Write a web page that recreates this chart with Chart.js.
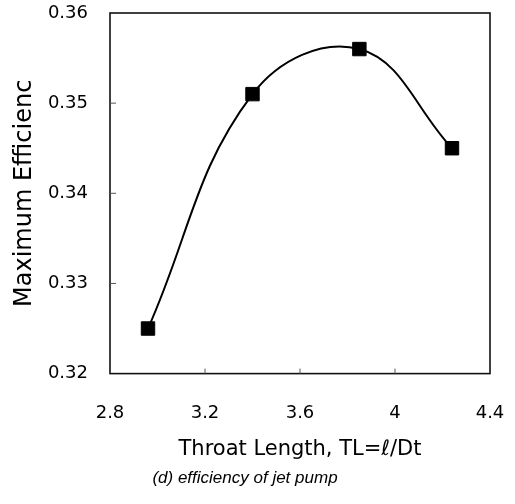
<!DOCTYPE html>
<html lang="en">
<head>
	<meta charset="UTF-8">
	<title>Maximum Efficiency vs Throat Length</title>
	<script src="https://cdn.jsdelivr.net/npm/chart.js"></script>
	<style>
		html, body { margin: 0; padding: 0; background: #fff; }
		#wrap { width: 515px; height: 504px; }
	</style>
</head>
<body>

<div id="wrap"><canvas id="effChart"></canvas></div>

<script>
// values
const throatLength = [2.96, 3.40, 3.85, 4.24];
const maxEfficiency = [0.325, 0.351, 0.356, 0.345];
const xTicks = [2.8, 3.2, 3.6, 4.0, 4.4];
const xTickLabels = ['2.8', '3.2', '3.6', '4', '4.4'];
const yTicks = [0.32, 0.33, 0.34, 0.35, 0.36];
const yTickLabels = ['0.32', '0.33', '0.34', '0.35', '0.36'];

// box around the plot + small inward tick marks
const frame = {
    id: 'frame',
    afterDraw(chart) {
        const {ctx, chartArea: a, scales} = chart;
        ctx.save();
        ctx.strokeStyle = '#111';
        ctx.lineWidth = 1.6;
        ctx.strokeRect(a.left, a.top, a.right - a.left, a.bottom - a.top);
        ctx.lineWidth = 1;
        ctx.strokeStyle = '#555';
        ctx.beginPath();
        xTicks.slice(1, -1).forEach(v => {
            const px = scales.x.getPixelForValue(v);
            ctx.moveTo(px, a.bottom);
            ctx.lineTo(px, a.bottom - 5);
        });
        yTicks.slice(1, -1).forEach(v => {
            const py = scales.y.getPixelForValue(v);
            ctx.moveTo(a.left, py);
            ctx.lineTo(a.left + 6, py);
        });
        ctx.stroke();
        ctx.restore();
    }
};

const ctx = document.getElementById('effChart').getContext('2d');
new Chart(ctx, {
    type: 'line',
    data: {
        datasets: [{
            data: throatLength.map((x, i) => ({x: x, y: maxEfficiency[i]})),
            borderColor: '#000',
            borderWidth: 2,
            tension: 0.4,
            fill: false,
            pointStyle: 'rect',
            pointRadius: 9.5,
            pointBackgroundColor: '#000',
            pointBorderColor: '#000',
            pointBorderWidth: 1
        }]
    },
    options: {
        responsive: true,
        maintainAspectRatio: false,
        animation: false,
        layout: { autoPadding: false, padding: { top: 13, right: 25, left: 0, bottom: 0 } },
        plugins: {
            legend: { display: false },
            tooltip: { enabled: false },
            title: {
                display: true,
                position: 'bottom',
                text: '(d) efficiency of jet pump',
                color: '#000',
                font: { family: 'Liberation Sans', size: 17, style: 'italic', weight: 'normal' },
                padding: { top: 0, bottom: 16 }
            }
        },
        scales: {
            x: {
                type: 'linear',
                min: 2.8,
                max: 4.4,
                afterBuildTicks: s => { s.ticks = xTicks.map(v => ({value: v})); },
                // fixed band under the plot, no extra side padding
                afterFit: s => { s.height = 94; s.paddingLeft = 0; s.paddingRight = 0; },
                grid: { display: false, drawTicks: false },
                border: { display: false },
                ticks: {
                    color: '#000',
                    font: { family: 'DejaVu Sans', size: 18 },
                    padding: 29,
                    maxRotation: 0,
                    callback: (v, i) => xTickLabels[i]
                },
                title: {
                    display: true,
                    text: 'Throat Length, TL=ℓ/Dt',
                    color: '#000',
                    font: { family: 'DejaVu Sans', size: 21 },
                    padding: { top: 0, bottom: 5 }
                }
            },
            y: {
                min: 0.32,
                max: 0.36,
                afterBuildTicks: s => { s.ticks = yTicks.map(v => ({value: v})); },
                afterFit: s => { s.width = 110; s.paddingTop = 0; s.paddingBottom = 0; },
                grid: { display: false, drawTicks: false },
                border: { display: false },
                ticks: {
                    color: '#000',
                    font: { family: 'DejaVu Sans', size: 18 },
                    padding: 22,
                    callback: (v, i) => yTickLabels[i]
                },
                title: {
                    display: true,
                    text: 'Maximum Efficienc',
                    color: '#000',
                    font: { family: 'DejaVu Sans', size: 24 },
                    padding: { top: 10, bottom: 0 }
                }
            }
        }
    },
    plugins: [frame]
});
</script>

</body>
</html>
